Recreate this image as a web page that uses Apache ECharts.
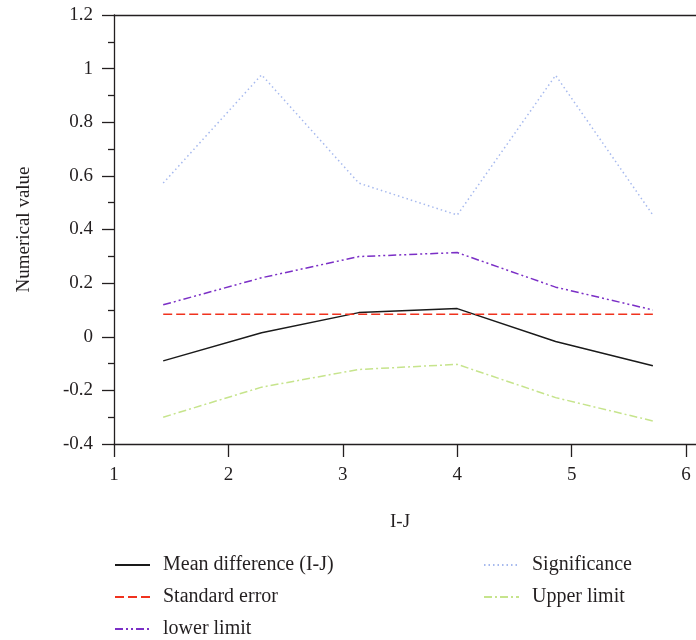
<!DOCTYPE html>
<html>
<head>
<meta charset="utf-8">
<script src="https://cdn.jsdelivr.net/npm/echarts@6/dist/echarts.min.js"></script>
<style>html,body{margin:0;padding:0;background:#fff}#c{width:696px;height:640px}</style>
</head>
<body>
<div id="c"></div>
<script>
// ---- data ----
const xPositions = [1.43, 2.29, 3.14, 4.00, 4.86, 5.71];
const meanDifference = [-0.090, 0.015, 0.090, 0.105, -0.018, -0.108];
const standardError = [0.084, 0.084, 0.084, 0.084, 0.084, 0.084];
const lowerLimit = [0.119, 0.220, 0.299, 0.314, 0.185, 0.100];
const significance = [0.573, 0.977, 0.573, 0.454, 0.975, 0.454];
const upperLimit = [-0.300, -0.188, -0.122, -0.103, -0.227, -0.314];
const xTickValues = [1, 2, 3, 4, 5, 6];
const seriesNames = ['Mean difference (I-J)', 'Standard error', 'lower limit', 'Significance', 'Upper limit'];

const FONT = 'Liberation Serif';
const INK = '#231f20';
const pair = (ys) => xPositions.map((x, i) => [x, ys[i]]);

const chart = echarts.init(document.getElementById('c'), null, {renderer: 'canvas'});
const mkSeries = (name, ys, color, type) => ({
  name, type: 'line', data: pair(ys), symbol: 'none', showSymbol: false,
  lineStyle: {color, width: 1.5, type}, itemStyle: {color}, z: 3
});
const legendBase = {
  orient: 'vertical', top: 555, padding: 0, itemGap: 12, itemWidth: 35, itemHeight: 14,
  itemStyle: {opacity: 0},
  textStyle: {fontFamily: FONT, fontSize: 20, color: INK, lineHeight: 20, padding: [0, 0, 0, 8]}
};
chart.setOption({
  animation: false,
  backgroundColor: '#fff',
  textStyle: {fontFamily: FONT, color: INK},
  grid: {left: 114, top: 15, right: 0, height: 429, containLabel: false},
  xAxis: [{
    type: 'value', min: 1, max: 6.087, position: 'bottom',
    name: 'I-J', nameLocation: 'middle', nameGap: 69,
    nameTextStyle: {fontFamily: FONT, fontSize: 19, color: INK, padding: [0, 10, 0, 0]},
    axisLine: {show: true, onZero: false, lineStyle: {color: INK, width: 1.3}},
    axisTick: {show: true, inside: false, length: 13, lineStyle: {color: INK, width: 1.3}, customValues: xTickValues},
    axisLabel: {show: true, margin: 22, fontFamily: FONT, fontSize: 19, color: INK, customValues: xTickValues},
    splitLine: {show: false}
  }, {
    type: 'value', min: 1, max: 6.087, position: 'top',
    axisLine: {show: true, onZero: false, lineStyle: {color: INK, width: 1.3}},
    axisTick: {show: false}, axisLabel: {show: false}, splitLine: {show: false}
  }],
  yAxis: {
    type: 'value', min: -0.4, max: 1.2, interval: 0.2,
    name: 'Numerical value', nameLocation: 'middle', nameGap: 80, nameRotate: 90,
    nameTextStyle: {fontFamily: FONT, fontSize: 19, color: INK},
    axisLine: {show: true, onZero: false, lineStyle: {color: INK, width: 1.3}},
    axisTick: {show: true, inside: false, length: 12, lineStyle: {color: INK, width: 1.3}},
    minorTick: {show: true, splitNumber: 2, length: 6, lineStyle: {color: INK, width: 1.3}},
    axisLabel: {margin: 21, fontFamily: FONT, fontSize: 19, color: INK},
    splitLine: {show: false}, minorSplitLine: {show: false}
  },
  legend: [
    Object.assign({}, legendBase, {data: seriesNames.slice(0, 3), left: 114}),
    Object.assign({}, legendBase, {data: seriesNames.slice(3), left: 483})
  ],
  series: [
    mkSeries(seriesNames[0], meanDifference, '#1a1a1a', 'solid'),
    mkSeries(seriesNames[1], standardError, '#f0321e', [9, 4]),
    mkSeries(seriesNames[2], lowerLimit, '#7b2fc6', [8, 3, 2, 3, 2, 3]),
    mkSeries(seriesNames[3], significance, '#a6b9ee', [1.5, 3]),
    mkSeries(seriesNames[4], upperLimit, '#c6e48c', [8, 3, 2, 3])
  ]
});
</script>
</body>
</html>
